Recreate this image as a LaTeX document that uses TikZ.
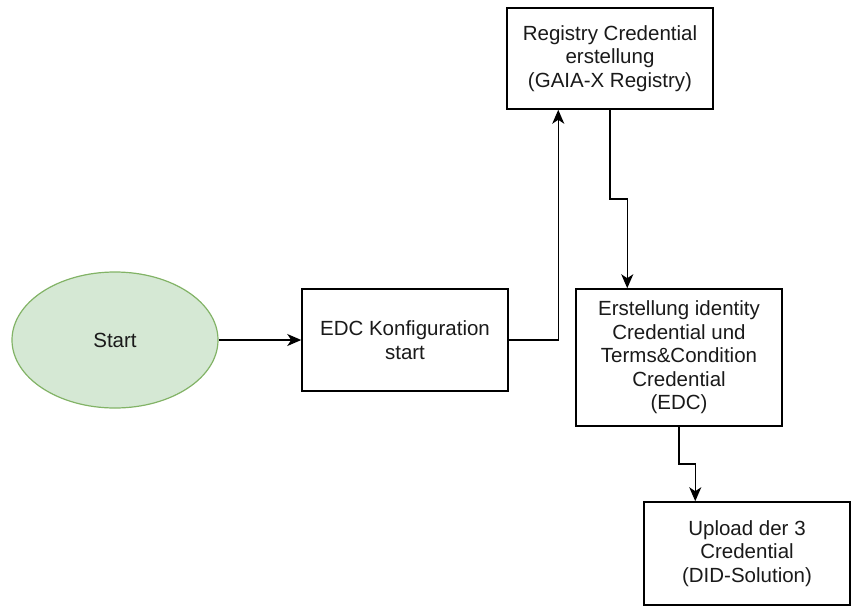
\documentclass[tikz,border=0pt]{standalone}
\usepackage{fontspec}
\setmainfont{Liberation Sans}
\usetikzlibrary{arrows.meta,calc,shapes.geometric}
\definecolor{txt}{HTML}{1A1A1A}
\definecolor{startfill}{HTML}{D5E8D4}
\definecolor{startdraw}{HTML}{82B366}
\begin{document}
\begin{tikzpicture}[x=1pt,y=-1pt,
  every node/.style={font=\fontsize{20.5}{23.5}\selectfont, text=txt, align=center, inner sep=0pt},
  procbox/.style={draw=black, line width=1.5pt, fill=white, rectangle, minimum width=206pt},
  startnode/.style={ellipse, draw=startdraw, line width=1.2pt, fill=startfill, minimum width=206pt, minimum height=136pt},
  conn/.style={draw=black, line width=1.5pt, -{Stealth[length=14pt,width=12pt,inset=4pt]}}
]
\useasboundingbox (0,0) rectangle (853,607);
\node[startnode] (start) at (115,340) {Start};
\node[procbox, minimum height=102pt] (edc) at (405,340) {EDC Konfiguration\\start};
\node[procbox, minimum height=101pt] (reg) at (610,58.5) {Registry Credential\\erstellung\\(GAIA-X Registry)};
\node[procbox, minimum height=137pt] (erst) at (679,357.5) {Erstellung identity\\Credential und\\Terms\&Condition\\Credential\\(EDC)};
\node[procbox, minimum height=103pt] (up) at (747,553.5) {Upload der 3\\Credential\\(DID-Solution)};
\coordinate (ra) at ($(reg.south west)+(52,0)$);
\coordinate (ea) at ($(erst.north west)+(52,0)$);
\coordinate (ua) at ($(up.north west)+(52,0)$);
\coordinate (m1) at ($(reg.south)!0.5!(ea)$);
\coordinate (m2) at ($(erst.south)!0.5!(ua)$);
\draw[conn] (start.east) -- (edc.west);
\draw[conn] (edc.east) -- (edc.east -| ra) -- (ra);
\draw[conn] (reg.south) |- (m1) -| (ea);
\draw[conn] (erst.south) |- (m2) -| (ua);
\end{tikzpicture}
\end{document}
